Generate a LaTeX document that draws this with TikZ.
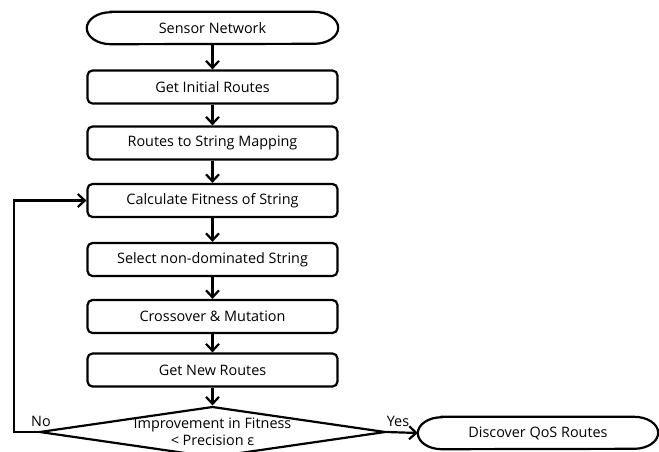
\documentclass[tikz,border=0pt]{standalone}
\usepackage{fontspec}
\setmainfont{Open Sans}
\usetikzlibrary{arrows.meta,shapes.geometric}
\begin{document}
\begin{tikzpicture}[x=1pt,y=-1pt,
  every node/.style={font=\fontsize{14.4}{16}\selectfont},
  proc/.style={draw,line width=2.2pt,rounded corners=5pt,minimum width=250pt,minimum height=33pt,inner sep=0pt},
  term/.style={minimum width=251pt,minimum height=32pt,inner sep=0pt},
  termline/.style={line width=2.2pt},
  flow/.style={line width=2.2pt,-{Straight Barb[length=7pt,width=13pt,line width=2.2pt]}}]
\useasboundingbox (0,0) rectangle (659,451);
\node[term] (sn) at (212.5,28) {Sensor Network};
\draw[termline] ([xshift=24pt]sn.north west) -- ([xshift=-24pt]sn.north east)
  arc[start angle=90,end angle=-90,x radius=24pt,y radius=16pt]
  -- ([xshift=24pt]sn.south west)
  arc[start angle=270,end angle=90,x radius=24pt,y radius=16pt] -- cycle;
\node[proc] (b1) at (212.5,87) {Get Initial Routes};
\node[proc] (b2) at (212.5,143) {Routes to String Mapping};
\node[proc] (b3) at (212.5,200.5) {Calculate Fitness of String};
\node[proc] (b4) at (212.5,259.5) {Select non-dominated String};
\node[proc] (b5) at (212.5,316.5) {Crossover \& Mutation};
\node[proc] (b6) at (212.5,370) {Get New Routes};
\node[diamond,draw,line width=2.2pt,minimum width=328pt,minimum height=48pt,inner sep=0pt,aspect=6.8,
  align=center,font=\fontsize{14.4}{15}\selectfont] (d) at (212.5,432) {Improvement in Fitness\\[2pt]< Precision ε};
\node[term,minimum width=240pt] (q) at (538,433) {Discover QoS Routes};
\draw[termline] ([xshift=24pt]q.north west) -- ([xshift=-24pt]q.north east)
  arc[start angle=90,end angle=-90,x radius=24pt,y radius=16pt]
  -- ([xshift=24pt]q.south west)
  arc[start angle=270,end angle=90,x radius=24pt,y radius=16pt] -- cycle;
\coordinate (lp) at (14,432);
\draw[flow] (sn) -- (b1);
\draw[flow] (b1) -- (b2);
\draw[flow] (b2) -- (b3);
\draw[flow] (b3) -- (b4);
\draw[flow] (b4) -- (b5);
\draw[flow] (b5) -- (b6);
\draw[flow] (b6) -- (d.north);
\draw[flow] (d.west) -- (lp) |- (b3.west);
\draw[flow] (d.east) -- (q.west);
\node[anchor=south] (no) at (41,430) {No};
\node[anchor=south] (yes) at (398,430) {Yes};
\end{tikzpicture}
\end{document}
